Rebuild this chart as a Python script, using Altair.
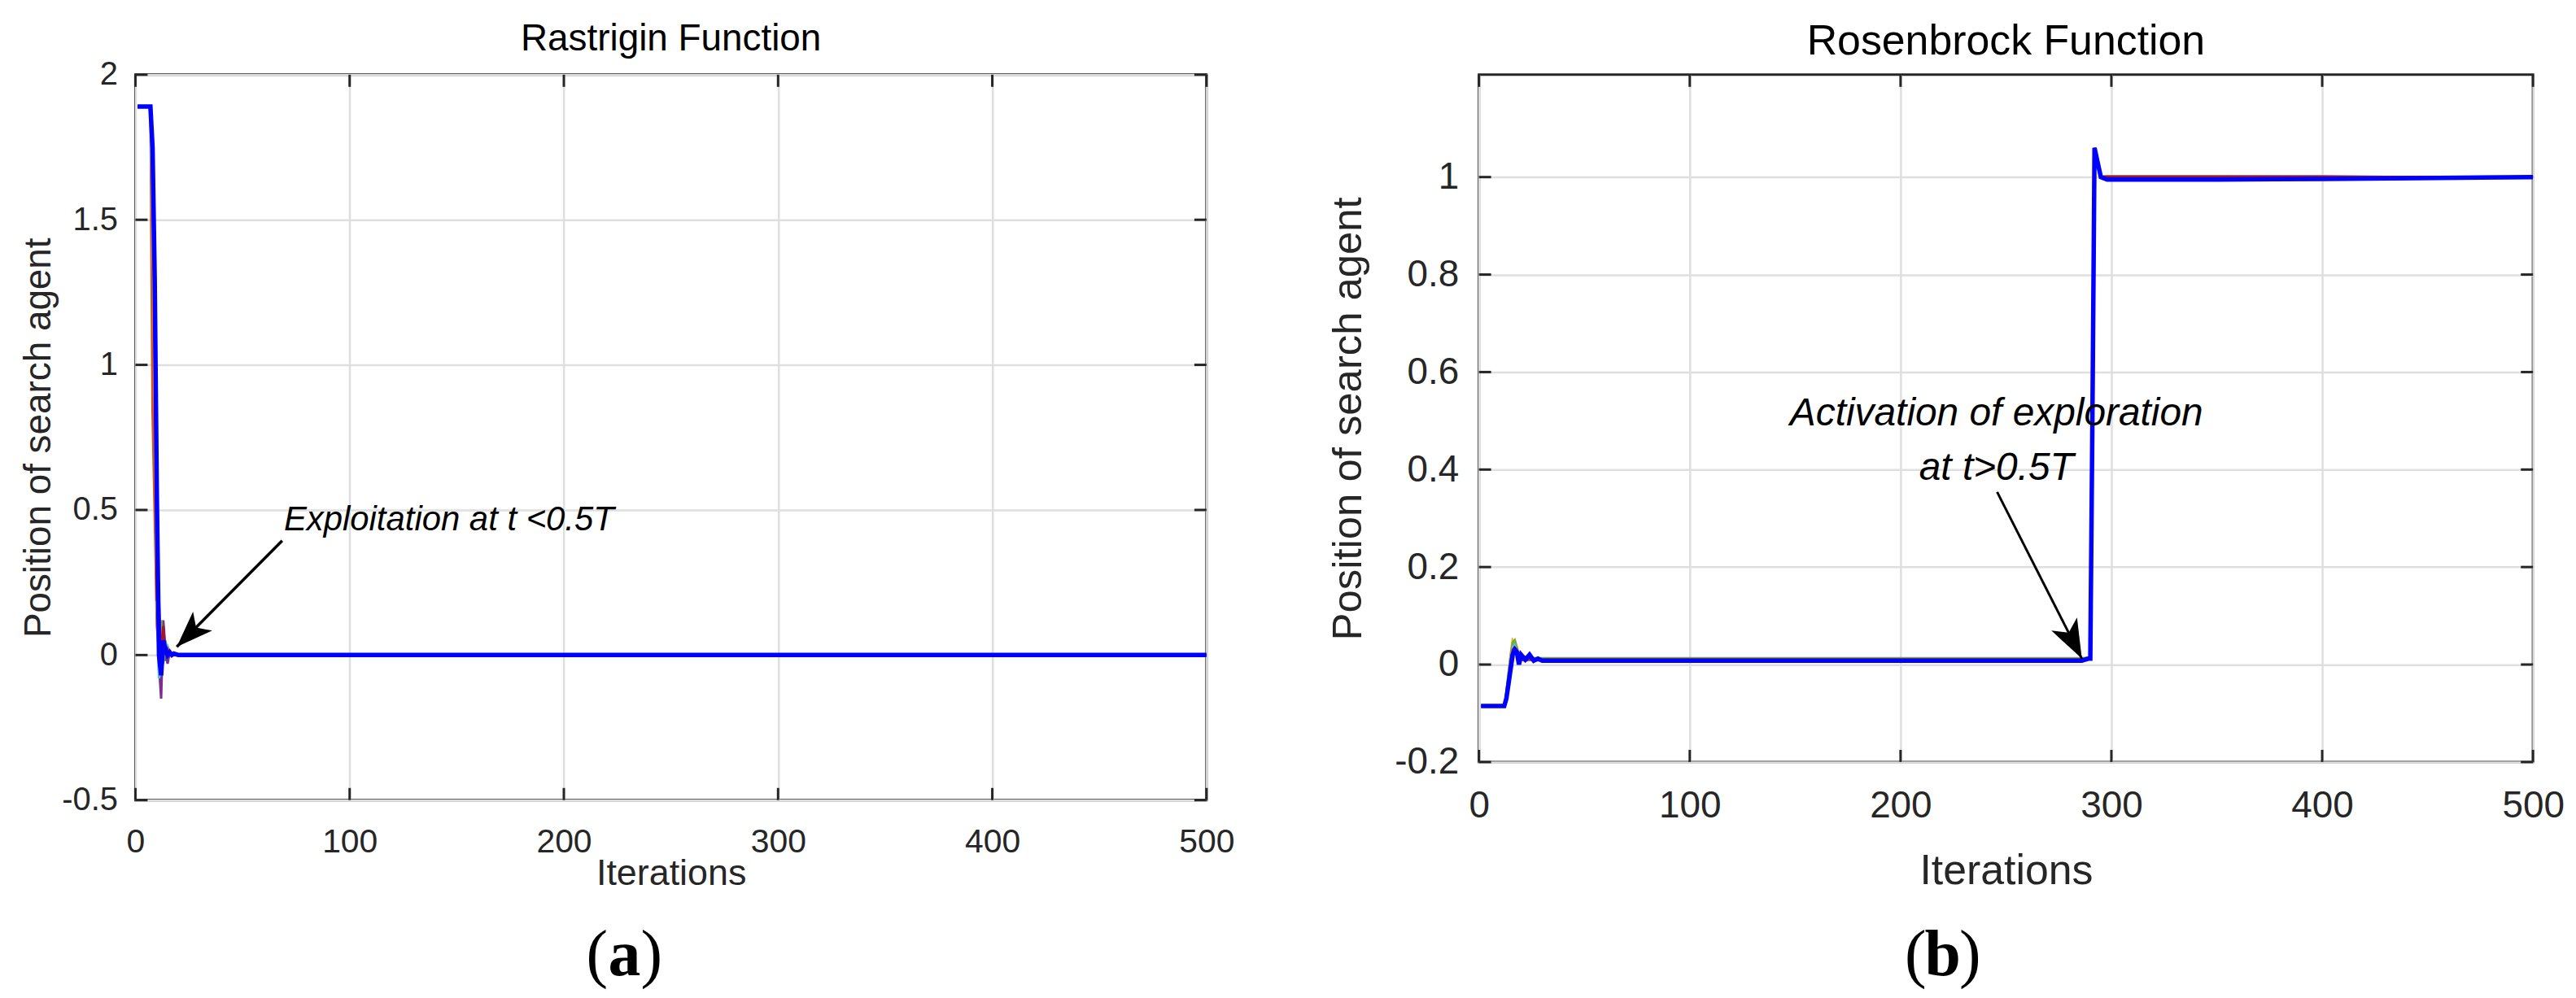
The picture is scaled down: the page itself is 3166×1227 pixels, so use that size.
import altair as alt
import pandas as pd

REG = "'Liberation Sans', Arial, Helvetica, sans-serif"
SERIF = "'Liberation Serif', 'Times New Roman', serif"

series_names = ["d1", "d2", "d3", "d4", "d5", "d6", "d7"]
series_colors = ["#0072BD", "#D95319", "#EDB120", "#7E2F8E", "#77AC30", "#4DBEEE", "#A2142F"]

x_ticks = [0, 100, 200, 300, 400, 500]

# ---------------- Panel (a): Rastrigin ----------------
iters_a = [1, 7, 8, 9, 10, 11, 12, 13, 14, 15, 16, 17, 18, 20, 22, 25, 500]
blue_a = [1.89, 1.89, 1.75, 1.30, 0.55, 0.0, -0.07, 0.05, 0.02, 0.0, 0.01, 0.0, 0.005, 0.0, 0.0, 0.0, 0.0]
a_d1 = [1.89, 1.89, 1.60, 1.05, 0.40, -0.05, -0.10, 0.04, -0.02, 0.01, 0.0, 0.0, 0.0, 0.0, 0.0, 0.0, 0.0]
a_d2 = [1.89, 1.89, 0.84, 0.48, 0.10, 0.02, -0.05, 0.08, 0.03, -0.02, 0.01, 0.0, 0.0, 0.0, 0.0, 0.0, 0.0]
a_d3 = [1.89, 1.89, 1.50, 0.90, 0.20, -0.05, -0.08, 0.06, 0.02, -0.01, 0.0, 0.0, 0.0, 0.0, 0.0, 0.0, 0.0]
a_d4 = [1.89, 1.89, 1.70, 1.10, 0.40, -0.03, -0.15, 0.12, 0.02, -0.03, 0.01, 0.0, 0.0, 0.0, 0.0, 0.0, 0.0]
a_d5 = [1.89, 1.89, 1.70, 1.26, 0.30, 0.06, 0.12, -0.03, 0.05, 0.01, 0.0, 0.0, 0.0, 0.0, 0.0, 0.0, 0.0]
a_d6 = [1.89, 1.89, 1.50, 1.10, 0.20, -0.08, -0.05, 0.07, 0.02, 0.03, 0.01, 0.0, 0.0, 0.0, 0.0, 0.0, 0.0]
a_d7 = [1.89, 1.89, 1.65, 1.20, 0.19, 0.19, -0.02, 0.10, 0.0, 0.02, 0.0, 0.0, 0.0, 0.0, 0.0, 0.0, 0.0]
y_ticks_a = [-0.5, 0, 0.5, 1, 1.5, 2]
y_dom_a = [-0.5, 2]
ann_a_text = ["Exploitation at t <0.5T"]
ann_a_it = [69.3]
ann_a_val = [0.43]
arrow_a = {"it": [68.5], "val": [0.394], "it2": [19.3], "val2": [0.028]}

# ---------------- Panel (b): Rosenbrock ----------------
iters_b = [1, 12, 13, 14, 15, 16, 17, 18, 19, 20, 22, 24, 26, 28, 30, 40, 286, 289, 290, 291,
           292, 293, 295, 298, 300, 350, 400, 445, 500]
blue_b = [-0.085, -0.085, -0.07, -0.04, -0.01, 0.02, 0.03, 0.025, 0.0, 0.02, 0.01, 0.02, 0.008, 0.012,
          0.008, 0.008, 0.008, 0.012, 0.012, 0.5, 1.06, 1.04, 1.0, 0.995, 0.995, 0.995, 0.996, 0.998, 1.0]
b_d1 = [-0.085, -0.085, -0.06, -0.03, 0.0, 0.03, 0.035, 0.02, 0.01, 0.015, 0.012, 0.015, 0.01, 0.01,
        0.009, 0.009, 0.009, 0.011, 0.011, 0.6, 1.05, 1.03, 1.0, 0.997, 0.997, 0.997, 0.997, 0.998, 1.0]
b_d2 = [-0.085, -0.085, -0.065, -0.03, 0.01, 0.04, 0.03, 0.02, 0.015, 0.012, 0.01, 0.012, 0.01, 0.011,
        0.01, 0.01, 0.01, 0.012, 0.012, 0.55, 1.055, 1.035, 1.0, 1.0, 1.0, 1.0, 1.0, 1.0, 1.0]
b_d3 = [-0.085, -0.085, -0.06, -0.02, 0.02, 0.05, 0.045, 0.03, 0.02, 0.015, 0.012, 0.015, 0.01, 0.01,
        0.01, 0.01, 0.01, 0.012, 0.012, 0.6, 1.06, 1.04, 1.0, 0.998, 0.998, 0.998, 0.998, 0.999, 1.0]
b_d4 = [-0.085, -0.085, -0.07, -0.035, 0.0, 0.03, 0.04, 0.025, 0.005, 0.01, 0.008, 0.01, 0.008, 0.009,
        0.008, 0.008, 0.008, 0.011, 0.011, 0.5, 1.05, 1.03, 1.0, 0.996, 0.996, 0.996, 0.996, 0.998, 1.0]
b_d5 = [-0.085, -0.085, -0.06, -0.02, 0.015, 0.045, 0.05, 0.035, 0.02, 0.02, 0.015, 0.018, 0.013, 0.013,
        0.013, 0.013, 0.013, 0.014, 0.014, 0.6, 1.06, 1.045, 1.002, 1.001, 1.001, 1.001, 1.001, 1.0, 1.0]
b_d6 = [-0.085, -0.085, -0.065, -0.03, 0.01, 0.035, 0.04, 0.025, 0.01, 0.015, 0.01, 0.012, 0.01, 0.01,
        0.01, 0.01, 0.01, 0.012, 0.012, 0.55, 1.055, 1.035, 1.0, 0.997, 0.997, 0.997, 0.997, 0.998, 1.0]
b_d7 = [-0.085, -0.085, -0.07, -0.04, 0.005, 0.03, 0.035, 0.03, 0.015, 0.012, 0.01, 0.012, 0.01, 0.01,
        0.01, 0.01, 0.01, 0.012, 0.012, 0.5, 1.06, 1.04, 1.0, 1.001, 1.001, 1.001, 1.001, 1.0, 1.0]
y_ticks_b = [-0.2, 0, 0.2, 0.4, 0.6, 0.8, 1]
y_dom_b = [-0.2, 1.21]
ann_b_text = ["Activation of exploration", "at t>0.5T"]
ann_b_it = [245.5, 245.5]
ann_b_val = [0.49, 0.379]
arrow_b = {"it": [245.8], "val": [0.354], "it2": [286.0], "val2": [0.012]}

HEAD = "M0,0 L0.74,2 L0,1.5 L-0.74,2 Z"
LABEL_EXPR = "datum.value < 0 ? '-' + format(-datum.value, '~g') : format(datum.value, '~g')"


def long_df(iters, agents):
    rows = []
    for name, vals in zip(series_names, agents):
        for i, v in zip(iters, vals):
            rows.append({"it": i, "val": v, "series": name})
    return pd.DataFrame(rows)


def panel(iters, blue, agents, ydom, yticks, W, H, title, s, ann_df, arrow, head_angle, head_size,
          letter, cap_x, cap_y):
    xs = alt.Scale(domain=[0, 500], nice=False, zero=False)
    ys = alt.Scale(domain=ydom, nice=False, zero=False)
    xaxis = alt.Axis(values=x_ticks, title="Iterations", grid=True, ticks=False, domain=False,
                     labelFont=REG, labelFontSize=s["tick"], labelPadding=s["xlp"],
                     labelColor="#262626", labelFlush=False, labelExpr=LABEL_EXPR,
                     titleFont=REG, titleFontSize=s["xt"], titleFontWeight="normal",
                     titleColor="#262626", titlePadding=s["xtp"],
                     gridColor="#dfdfdf", gridWidth=2.5)
    yaxis = alt.Axis(values=yticks, title="Position of search agent", grid=True, ticks=False,
                     domain=False, labelFont=REG, labelFontSize=s["ytick"],
                     labelPadding=s["ylp"], labelColor="#262626", labelFlush=False,
                     labelExpr=LABEL_EXPR, titleFont=REG, titleFontSize=s["yt"],
                     titleFontWeight="normal", titleColor="#262626", titlePadding=s["ytp"],
                     gridColor="#dfdfdf", gridWidth=2.5)

    df = long_df(iters, agents)
    bdf = pd.DataFrame({"it": iters, "val": blue})
    xt_df = pd.DataFrame({"it": x_ticks})
    yt_df = pd.DataFrame({"val": yticks})
    arr_df = pd.DataFrame(arrow)

    X = lambda f="it": alt.X(f"{f}:Q", scale=xs, axis=xaxis)
    Y = lambda f="val": alt.Y(f"{f}:Q", scale=ys, axis=yaxis)

    colored = alt.Chart(df).mark_line(strokeWidth=3, clip=True).encode(
        x=X(), y=Y(),
        color=alt.Color("series:N", scale=alt.Scale(domain=series_names, range=series_colors),
                        legend=None),
    )
    tick_col = "#262626"
    tb = alt.Chart(xt_df).mark_rule(color=tick_col, strokeWidth=3).encode(
        x=X(), y=alt.value(H), y2=alt.value(H - 15))
    tt = alt.Chart(xt_df).mark_rule(color=tick_col, strokeWidth=3).encode(
        x=X(), y=alt.value(0), y2=alt.value(15))
    tl = alt.Chart(yt_df).mark_rule(color=tick_col, strokeWidth=3).encode(
        y=Y(), x=alt.value(0), x2=alt.value(15))
    tr = alt.Chart(yt_df).mark_rule(color=tick_col, strokeWidth=3).encode(
        y=Y(), x=alt.value(W), x2=alt.value(W - 15))
    blue_line = alt.Chart(bdf).mark_line(color="#0000FF", strokeWidth=5.5, clip=True).encode(
        x=X(), y=Y())
    shaft = alt.Chart(arr_df).mark_rule(color="black", strokeWidth=s["shaft"]).encode(
        x=X(), y=Y(), x2="it2:Q", y2="val2:Q")
    head = alt.Chart(arr_df).mark_point(shape=HEAD, filled=True, color="black", opacity=1,
                                        size=head_size, angle=head_angle).encode(
        x=X("it2"), y=Y("val2"))
    ann = alt.Chart(ann_df).mark_text(font=REG, fontStyle="italic", fontSize=s["ann"],
                                      align=s["ann_align"], baseline="alphabetic",
                                      color="black").encode(
        x=X(), y=Y(), text="label:N")
    one = pd.DataFrame({"t": [letter]})
    cfs = s["cap"]
    cap_l = alt.Chart(one).mark_text(text="(", font=SERIF, fontSize=cfs, align="center",
                                     baseline="middle", color="black").encode(
        x=alt.value(cap_x - 0.42 * cfs), y=alt.value(cap_y))
    cap_m = alt.Chart(one).mark_text(font=SERIF, fontSize=cfs, fontWeight="bold",
                                     align="center", baseline="middle", color="black").encode(
        x=alt.value(cap_x), y=alt.value(cap_y), text="t:N")
    cap_r = alt.Chart(one).mark_text(text=")", font=SERIF, fontSize=cfs, align="center",
                                     baseline="middle", color="black").encode(
        x=alt.value(cap_x + 0.42 * cfs), y=alt.value(cap_y))

    return alt.layer(colored, tb, tt, tl, tr, blue_line, shaft, head, ann, cap_l, cap_m, cap_r).properties(
        width=W, height=H,
        title=alt.TitleParams(title, font=REG, fontSize=s["title"], fontWeight="normal",
                              color="black", offset=s["toff"], anchor="middle"),
    )


sizes_a = dict(tick=41, ytick=40, xlp=32, ylp=22, xt=45, xtp=-4, yt=46, ytp=4, ann=42,
               ann_align="left", shaft=3.5, title=46, toff=0, cap=80)
sizes_b = dict(tick=46, ytick=46, xlp=32, ylp=25, xt=52, xtp=32, yt=51, ytp=30, ann=48,
               ann_align="center", shaft=3, title=52, toff=12, cap=80)

ann_a = pd.DataFrame({"label": ann_a_text, "it": ann_a_it, "val": ann_a_val})
ann_b = pd.DataFrame({"label": ann_b_text, "it": ann_b_it, "val": ann_b_val})

left = panel(iters_a, blue_a, [a_d1, a_d2, a_d3, a_d4, a_d5, a_d6, a_d7], y_dom_a, y_ticks_a,
             1321, 895, "Rastrigin Function", sizes_a, ann_a, arrow_a, 225, 2025, "a", 603, 1087)
right = panel(iters_b, blue_b, [b_d1, b_d2, b_d3, b_d4, b_d5, b_d6, b_d7], y_dom_b, y_ticks_b,
              1300, 848, "Rosenbrock Function", sizes_b, ann_b, arrow_b, 153, 2300, "b", 572, 1087)

chart = alt.hconcat(left, right, spacing=112).configure_view(
    stroke="#262626", strokeWidth=3
).properties(padding={"left": 15, "top": 13, "right": 5, "bottom": 5})

chart.save("out.html", embed_options={"renderer": "svg", "actions": False})
